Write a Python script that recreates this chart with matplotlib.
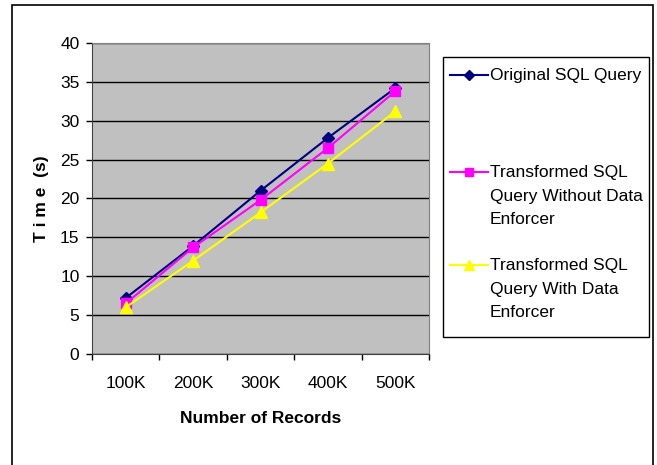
import matplotlib
matplotlib.use("Agg")
import matplotlib.pyplot as plt
from matplotlib.lines import Line2D
from matplotlib.patches import Rectangle

# Data
records = ["100K", "200K", "300K", "400K", "500K"]
original = [7.2, 13.9, 21.0, 27.8, 34.2]
without_enforcer = [6.5, 13.7, 19.8, 26.5, 33.8]
with_enforcer = [6.0, 12.0, 18.2, 24.5, 31.2]

series_labels = ["Original SQL Query",
                 "Transformed SQL\nQuery Without Data\nEnforcer",
                 "Transformed SQL\nQuery With Data\nEnforcer"]
series_colors = ["#000080", "#FF00FF", "#FFFF00"]
series_markers = ["D", "s", "^"]
series_sizes = [6, 7, 8]

plt.rcParams["font.family"] = ["Liberation Sans", "DejaVu Sans"]

W, H = 657, 465
fig = plt.figure(figsize=(W / 100, H / 100), dpi=100)

# outer frame round the whole chart (bottom edge is cut off)
fig.add_artist(Rectangle((12 / W, -0.05), (653 - 12) / W, 1 - 5 / H + 0.05,
                         transform=fig.transFigure, fill=False,
                         edgecolor="black", linewidth=1.2))

ax = fig.add_axes([92 / W, 1 - 354 / H, (429 - 92) / W, (354 - 43) / H])
ax.set_facecolor("#C0C0C0")

x = list(range(len(records)))
for vals, col, mk, ms in zip([original, without_enforcer, with_enforcer],
                             series_colors, series_markers, series_sizes):
    ax.plot(x, vals, color=col, marker=mk, markersize=ms, linewidth=1.5,
            markeredgecolor=col, zorder=3)

ax.set_xlim(-0.5, len(records) - 0.5)
ax.set_ylim(0, 40)
ax.set_yticks(range(0, 41, 5))
ax.yaxis.grid(True, color="black", linewidth=1)
ax.set_axisbelow(True)

ax.set_xticks(x)
ax.set_xticklabels(records)
ax.set_xticks([i - 0.5 for i in range(len(records) + 1)], minor=True)
ax.tick_params(axis="x", which="major", length=0, pad=16, labelsize=12.5)
ax.tick_params(axis="x", which="minor", length=4, width=1, direction="out")
ax.tick_params(axis="y", length=4, width=1, pad=5, labelsize=12.5)

for side in ["top", "right"]:
    ax.spines[side].set_color("#808080")
for side in ["left", "bottom"]:
    ax.spines[side].set_color("#404040")

ax.set_xlabel("Number of Records", fontsize=12.5, fontweight="bold", labelpad=14)
ax.set_ylabel("T i m e  (s)", fontsize=12.5, fontweight="bold", labelpad=8)

# legend box drawn to the right of the plot
fig.add_artist(Rectangle((443 / W, 1 - 337 / H), (649 - 443) / W, (337 - 57) / H,
                         transform=fig.transFigure, fill=False,
                         edgecolor="black", linewidth=1))
row_y = [75, 172, 265]
for lab, col, mk, ms, yy in zip(series_labels, series_colors, series_markers,
                                series_sizes, row_y):
    fy = 1 - yy / H
    fig.add_artist(Line2D([450 / W, 488 / W], [fy, fy], transform=fig.transFigure,
                          color=col, linewidth=1.5))
    fig.add_artist(Line2D([469 / W], [fy], transform=fig.transFigure,
                          color=col, marker=mk, markersize=ms - 1,
                          markeredgecolor=col))
    fig.text(490 / W, fy + 7 / H, lab, fontsize=12.5, va="top", ha="left",
             linespacing=1.72)

fig.savefig("out.png", dpi=100)
